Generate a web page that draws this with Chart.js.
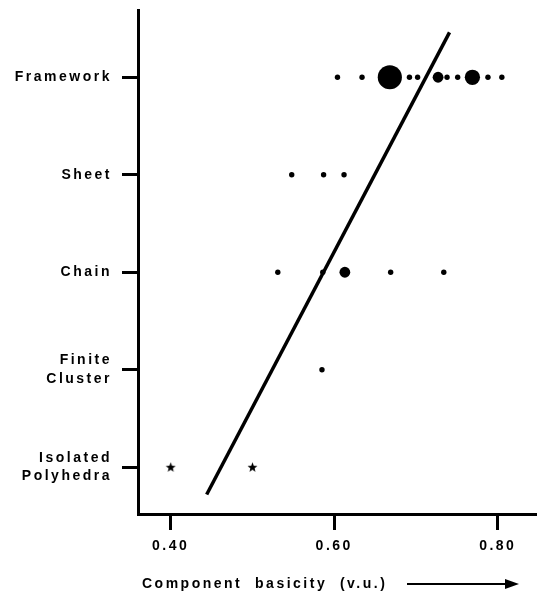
<!DOCTYPE html>
<html>
<head>
<meta charset="utf-8">
<script src="https://cdn.jsdelivr.net/npm/chart.js@4"></script>
<style>
  html, body { margin: 0; padding: 0; background: #fff; }
  canvas { display: block; }
</style>
</head>
<body>
<canvas id="chart" width="537" height="598"></canvas>
<script>
// structural classes, bottom to top
const categories = [['Isolated', 'Polyhedra'], ['Finite', 'Cluster'], 'Chain', 'Sheet', 'Framework'];

// component basicity (v.u.) and number of structures per point
const frameworkValues = [0.604, 0.634, 0.668, 0.692, 0.702, 0.727, 0.738, 0.751, 0.769, 0.788, 0.805];
const frameworkCounts = [1, 1, 20, 1, 1, 4, 1, 1, 8, 1, 1];
const sheetValues = [0.548, 0.587, 0.612];
const sheetCounts = [1, 1, 1];
const chainValues = [0.531, 0.586, 0.613, 0.669, 0.734];
const chainCounts = [1, 1, 4, 1, 1];
const clusterValues = [0.585];
const clusterCounts = [1];
const isolatedValues = [0.40, 0.50];

// trend line end points
const trendX = [0.444, 0.741];
const trendY = [-0.28, 4.46];

const xTicks = [0.40, 0.60, 0.80];

const FONT = 'Liberation Sans, Arial, sans-serif';

// points for one class
function rowPoints(values, counts, row) {
  return values.map((v, i) => ({ x: v, y: row, r: 2.7 * Math.sqrt(counts[i]) }));
}

const bubbles = [].concat(
  rowPoints(frameworkValues, frameworkCounts, 4),
  rowPoints(sheetValues, sheetCounts, 3),
  rowPoints(chainValues, chainCounts, 2),
  rowPoints(clusterValues, clusterCounts, 1)
);

// small filled star for the isolated polyhedra
const star = document.createElement('canvas');
star.width = 11;
star.height = 11;
(function () {
  const c = star.getContext('2d');
  c.fillStyle = '#000';
  c.beginPath();
  for (let i = 0; i < 10; i++) {
    const a = -Math.PI / 2 + i * Math.PI / 5;
    const rr = i % 2 === 0 ? 5.2 : 2.2;
    c.lineTo(5.5 + rr * Math.cos(a), 5.8 + rr * Math.sin(a));
  }
  c.closePath();
  c.fill();
})();

// x axis title with arrow + letter spacing
const extras = {
  id: 'extras',
  beforeDraw(chart) {
    chart.ctx.letterSpacing = '2.5px';
  },
  afterDraw(chart) {
    const ctx = chart.ctx;
    ctx.save();
    ctx.fillStyle = '#000';
    ctx.strokeStyle = '#000';
    ctx.font = 'bold 14px ' + FONT;
    ctx.textBaseline = 'middle';
    ctx.textAlign = 'left';
    ctx.fillText('Component  basicity  (v.u.)', 142, 584);
    ctx.lineWidth = 2;
    ctx.beginPath();
    ctx.moveTo(407, 584);
    ctx.lineTo(508, 584);
    ctx.stroke();
    ctx.beginPath();
    ctx.moveTo(519, 584);
    ctx.lineTo(505, 579);
    ctx.lineTo(505, 589);
    ctx.closePath();
    ctx.fill();
    ctx.restore();
  }
};

new Chart(document.getElementById('chart'), {
  type: 'bubble',
  data: {
    datasets: [
      {
        data: bubbles,
        backgroundColor: '#000',
        borderColor: '#000',
        borderWidth: 0
      },
      {
        data: isolatedValues.map(v => ({ x: v, y: 0, r: 5 })),
        pointStyle: star,
        backgroundColor: '#000'
      },
      {
        type: 'line',
        data: trendX.map((x, i) => ({ x: x, y: trendY[i] })),
        borderColor: '#000',
        borderWidth: 3.5,
        pointRadius: 0,
        borderCapStyle: 'butt'
      }
    ]
  },
  options: {
    responsive: false,
    animation: false,
    events: [],
    layout: { autoPadding: false, padding: { top: 10, right: 0, left: 0, bottom: 0 } },
    plugins: {
      legend: { display: false },
      tooltip: { enabled: false }
    },
    scales: {
      x: {
        type: 'linear',
        min: 0.36,
        max: 0.848,
        afterBuildTicks: s => { s.ticks = xTicks.map(v => ({ value: v })); },
        afterFit: s => { s.height = 84; s.paddingLeft = 0; s.paddingRight = 0; },
        border: { display: true, color: '#000', width: 3 },
        grid: { drawOnChartArea: false, color: '#000', lineWidth: 3, tickLength: 16 },
        ticks: {
          color: '#000',
          padding: 8,
          font: { family: FONT, size: 14, weight: 'bold' },
          callback: v => v.toFixed(2)
        }
      },
      y: {
        type: 'linear',
        min: -0.48,
        max: 4.69,
        afterBuildTicks: s => { s.ticks = categories.map((c, i) => ({ value: i })); },
        afterFit: s => { s.width = 138; s.paddingTop = 0; s.paddingBottom = 0; },
        border: { display: true, color: '#000', width: 3 },
        grid: { drawOnChartArea: false, color: '#000', lineWidth: 3, tickLength: 16 },
        ticks: {
          color: '#000',
          padding: 10,
          font: { family: FONT, size: 14, weight: 'bold', lineHeight: 1.3 },
          callback: v => categories[v]
        }
      }
    }
  },
  plugins: [extras]
});
</script>
</body>
</html>
